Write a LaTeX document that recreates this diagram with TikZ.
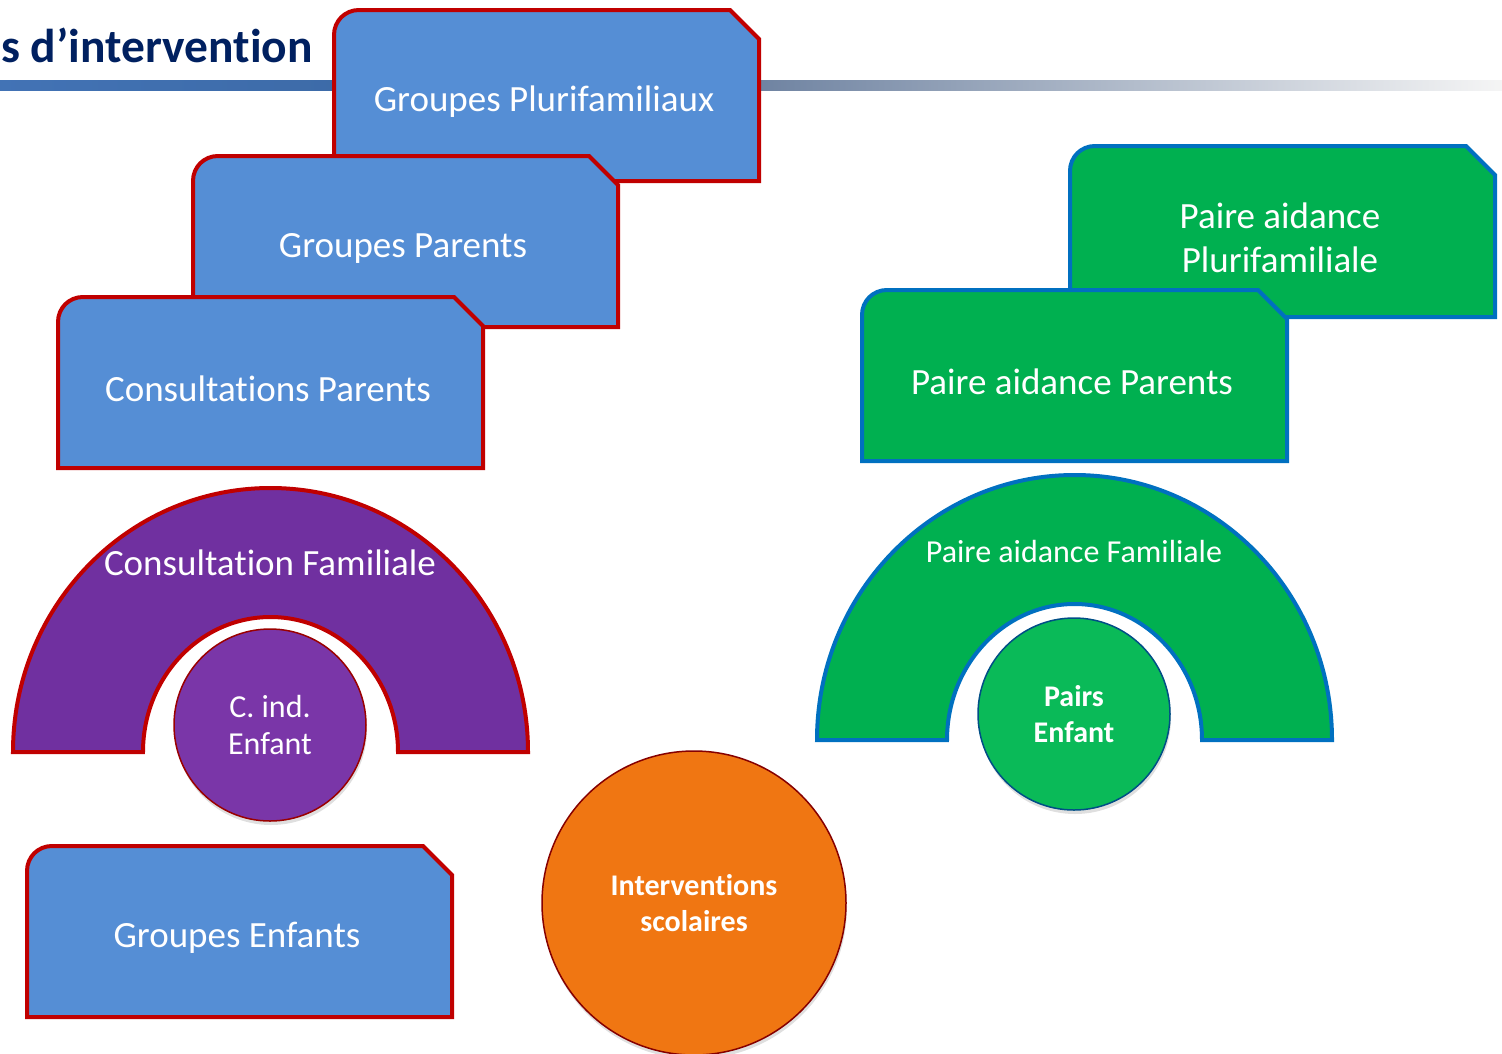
\documentclass[tikz,border=0pt]{standalone}
\usepackage{fontspec}
\setmainfont{Carlito}[Ligatures=CommonOff]
\usetikzlibrary{positioning, shadows}
\definecolor{boxblue}{RGB}{85,142,213}
\definecolor{boxred}{RGB}{192,0,0}
\definecolor{boxgreen}{RGB}{0,176,80}
\definecolor{linkblue}{RGB}{0,112,192}
\definecolor{famviolet}{RGB}{112,48,160}
\definecolor{circviolet}{RGB}{122,54,168}
\definecolor{circgreen}{RGB}{10,186,88}
\definecolor{circorange}{RGB}{240,118,18}
\definecolor{titlenavy}{RGB}{0,32,96}
\newcommand{\redline}{boxred}
\newcommand{\blueline}{linkblue}
\pgfdeclarehorizontalshading{titlebar}{100bp}{rgb(0bp)=(0.26,0.45,0.71); rgb(25bp)=(0.26,0.45,0.71); rgb(36bp)=(0.24,0.42,0.66); rgb(50bp)=(0.43,0.51,0.63); rgb(75bp)=(0.96,0.96,0.96); rgb(100bp)=(0.96,0.96,0.96)}
% box with one round and one cut corner: name, left, top, style, text
\newcommand{\snipbox}[5]{%
	\filldraw[#4] (#2,#3+171) -- ++(0,-146) .. controls +(0,-14) and +(-14,0) .. ++(25,-25) -- ++(371,0) -- ++(29,29) -- ++(0,142) -- cycle;
	\node[boxtext] (#1) at (#2+210,#3+92) {#5};
}

\begin{document}
\begin{tikzpicture}[x=1pt,y=-1pt,
	boxtext/.style={text=white, align=center, font=\fontsize{37}{44}\selectfont},
	redbox/.style={draw=\redline, fill=boxblue, line width=4pt},
	greenbox/.style={draw=\blueline, fill=boxgreen, line width=4pt},
	rond/.style={circle, text=white, align=center, inner sep=0pt, drop shadow={opacity=0.25, shadow xshift=1pt, shadow yshift=-4pt}}]
	\useasboundingbox (0,0) rectangle (1502,1053);
	%% title and bar
	\node[anchor=base east, inner sep=0pt, text=titlenavy, font=\bfseries\fontsize{47.5}{54}\selectfont] (title) at (313,62) {s d’intervention};
	\shade[shading=titlebar] (0,80) rectangle (1502,90);
	%% parents side
	\snipbox{gpluri}{334}{10}{redbox}{Groupes Plurifamiliaux}
	\snipbox{gparents}{193}{156}{redbox}{Groupes Parents}
	\snipbox{cparents}{58}{297}{redbox}{Consultations Parents}
	%% pairs side
	\snipbox{papluri}{1070}{146}{greenbox}{Paire aidance\\Plurifamiliale}
	\snipbox{paparents}{862}{290}{greenbox}{Paire aidance Parents}
	%% family arches
	\filldraw[draw=\redline, fill=famviolet, line width=4pt] (13,752) arc[start angle=180, end angle=0, x radius=257.5pt, y radius=264pt] -- (398,752) arc[start angle=0, end angle=180, x radius=127.5pt, y radius=135pt] -- cycle;
	\node[boxtext] (cfam) at (270,563) {Consultation Familiale};
	\filldraw[draw=\blueline, fill=boxgreen, line width=4pt] (817,740) arc[start angle=180, end angle=0, x radius=257.5pt, y radius=265pt] -- (1202,740) arc[start angle=0, end angle=180, x radius=127.5pt, y radius=136pt] -- cycle;
	\node[boxtext, font=\fontsize{32}{38}\selectfont] (pafam) at (1074,551) {Paire aidance Familiale};
	%% children
	\node[rond, minimum size=192pt, fill=circviolet, draw=boxred!80!black, line width=1.5pt, font=\fontsize{32}{37}\selectfont] (cind) at (270,725) {C. ind.\\Enfant};
	\node[rond, minimum size=192pt, fill=circgreen, draw=linkblue!70!black, line width=1.5pt, font=\bfseries\fontsize{30}{36}\selectfont] (pairsenf) at (1074,714) {Pairs\\Enfant};
	\snipbox{genfants}{27}{846}{redbox}{Groupes Enfants}
	\node[rond, minimum size=304pt, fill=circorange, draw=boxred!70!black, line width=1.5pt, font=\bfseries\fontsize{30}{36}\selectfont] (interv) at (694,903) {Interventions\\scolaires};
\end{tikzpicture}
\end{document}
